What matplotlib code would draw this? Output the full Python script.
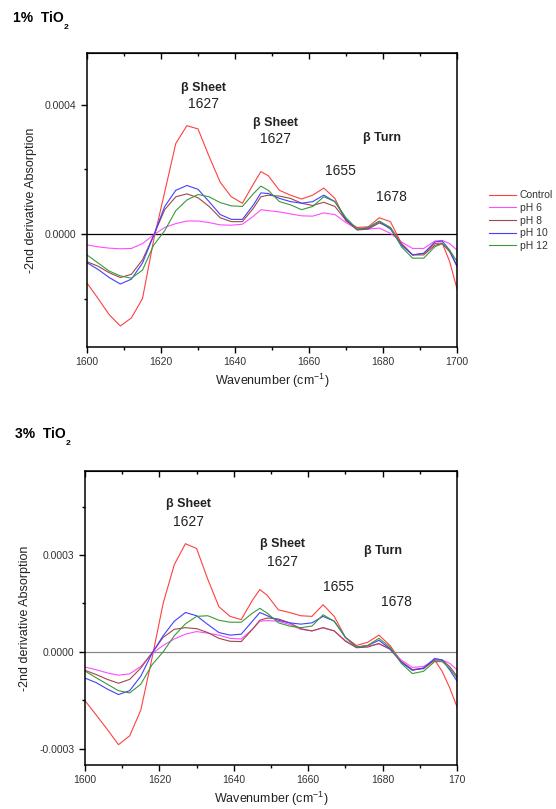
import numpy as np
import matplotlib
matplotlib.use('Agg')
import matplotlib.pyplot as plt
from matplotlib.ticker import MultipleLocator, FormatStrFormatter

plt.rcParams['font.family'] = ['Liberation Sans', 'DejaVu Sans']
plt.rcParams['mathtext.fontset'] = 'custom'
plt.rcParams['mathtext.rm'] = 'Liberation Sans'
plt.rcParams['mathtext.bf'] = 'Liberation Sans:bold'
plt.rcParams['axes.unicode_minus'] = False

# wavenumber grid (cm-1), values below are in units of 1e-4
wn = [1600, 1603, 1606, 1609, 1612, 1615, 1618, 1621, 1624, 1627, 1630, 1633,
      1636, 1639, 1642, 1645, 1647, 1649, 1652, 1655, 1658, 1661, 1664, 1667,
      1670, 1673, 1676, 1679, 1682, 1685, 1688, 1691, 1694, 1696, 1698, 1700]
scale = 1e-4

labels = ['Control', 'pH 6', 'pH 8', 'pH 10', 'pH 12']
colors = ['#ff4040', '#ff4cff', '#a04848', '#4040ff', '#3a9a3a']

# 1% TiO2
top_control = [-1.52, -2.0, -2.5, -2.85, -2.6, -2.0, -0.2, 1.3, 2.8, 3.35, 3.25, 2.4,
               1.6, 1.15, 0.95, 1.55, 1.93, 1.8, 1.35, 1.2, 1.08, 1.2, 1.42, 1.1,
               0.4, 0.2, 0.22, 0.5, 0.38, -0.3, -0.65, -0.6, -0.3, -0.28, -0.85, -1.7]
top_ph6 = [-0.34, -0.40, -0.44, -0.46, -0.45, -0.3, -0.03, 0.2, 0.32, 0.4, 0.4, 0.35,
           0.28, 0.27, 0.3, 0.55, 0.75, 0.72, 0.68, 0.62, 0.56, 0.55, 0.65, 0.6,
           0.35, 0.15, 0.15, 0.18, 0.02, -0.25, -0.45, -0.45, -0.22, -0.2, -0.3, -0.5]
top_ph8 = [-0.86, -1.0, -1.2, -1.35, -1.25, -0.8, -0.05, 0.75, 1.15, 1.24, 1.12, 0.85,
           0.5, 0.38, 0.38, 0.8, 1.15, 1.2, 1.17, 1.1, 0.95, 0.88, 0.98, 0.85,
           0.42, 0.12, 0.15, 0.34, 0.2, -0.3, -0.65, -0.65, -0.35, -0.3, -0.55, -1.0]
top_ph10 = [-0.89, -1.1, -1.35, -1.55, -1.4, -0.9, -0.05, 0.85, 1.35, 1.5, 1.38, 1.0,
            0.6, 0.45, 0.45, 0.9, 1.27, 1.25, 1.1, 1.0, 0.95, 1.0, 1.2, 1.0,
            0.45, 0.15, 0.18, 0.38, 0.15, -0.35, -0.65, -0.6, -0.25, -0.22, -0.5, -1.0]
top_ph12 = [-0.65, -0.9, -1.15, -1.3, -1.37, -1.12, -0.35, 0.1, 0.72, 1.05, 1.22, 1.15,
            0.97, 0.87, 0.85, 1.25, 1.48, 1.35, 1.0, 0.9, 0.75, 0.85, 1.15, 1.0,
            0.5, 0.15, 0.2, 0.4, 0.2, -0.4, -0.75, -0.75, -0.4, -0.3, -0.5, -0.85]

# 3% TiO2
bot_control = [-1.51, -1.95, -2.4, -2.87, -2.6, -1.8, -0.2, 1.5, 2.7, 3.35, 3.2, 2.25,
               1.4, 1.1, 1.0, 1.6, 1.93, 1.75, 1.3, 1.22, 1.12, 1.1, 1.46, 1.1,
               0.45, 0.2, 0.3, 0.52, 0.2, -0.3, -0.55, -0.5, -0.25, -0.6, -1.1, -1.7]
bot_ph6 = [-0.47, -0.55, -0.65, -0.72, -0.68, -0.45, -0.05, 0.2, 0.4, 0.55, 0.63, 0.58,
           0.52, 0.42, 0.4, 0.7, 0.95, 0.97, 0.95, 0.85, 0.7, 0.65, 0.75, 0.65,
           0.35, 0.15, 0.18, 0.25, 0.1, -0.25, -0.48, -0.45, -0.25, -0.25, -0.35, -0.55]
bot_ph8 = [-0.57, -0.7, -0.85, -0.97, -0.85, -0.5, -0.03, 0.45, 0.7, 0.75, 0.72, 0.6,
           0.42, 0.33, 0.32, 0.7, 0.98, 1.05, 1.02, 0.9, 0.72, 0.65, 0.75, 0.65,
           0.33, 0.13, 0.15, 0.26, 0.08, -0.3, -0.55, -0.52, -0.25, -0.25, -0.45, -0.75]
bot_ph10 = [-0.81, -0.95, -1.15, -1.32, -1.2, -0.75, -0.05, 0.5, 0.95, 1.22, 1.12, 0.85,
            0.6, 0.52, 0.55, 0.95, 1.22, 1.12, 0.98, 0.9, 0.86, 0.9, 1.1, 0.95,
            0.45, 0.15, 0.2, 0.36, 0.1, -0.32, -0.57, -0.5, -0.2, -0.25, -0.55, -0.9]
bot_ph12 = [-0.59, -0.8, -1.0, -1.2, -1.27, -1.0, -0.4, 0.0, 0.5, 0.87, 1.1, 1.12,
            0.98, 0.92, 0.92, 1.2, 1.35, 1.2, 0.9, 0.8, 0.75, 0.8, 1.15, 0.95,
            0.45, 0.15, 0.2, 0.42, 0.15, -0.35, -0.67, -0.6, -0.3, -0.3, -0.5, -0.8]

top_series = [top_control, top_ph6, top_ph8, top_ph10, top_ph12]
bot_series = [bot_control, bot_ph6, bot_ph8, bot_ph10, bot_ph12]

# annotations: (text, x, y in 1e-4, bold)
top_notes = [('β Sheet', 1631.4, 4.53, True), ('1627', 1631.4, 4.03, False),
             ('β Sheet', 1651.0, 3.44, True), ('1627', 1651.0, 2.95, False),
             ('β Turn', 1679.7, 2.98, True), ('1655', 1668.4, 1.95, False),
             ('1678', 1682.4, 1.15, False)]
bot_notes = [('β Sheet', 1627.7, 4.59, True), ('1627', 1627.7, 4.03, False),
             ('β Sheet', 1653.0, 3.34, True), ('1627', 1653.0, 2.78, False),
             ('β Turn', 1680.0, 3.13, True), ('1655', 1668.0, 2.0, False),
             ('1678', 1683.6, 1.53, False)]

fig = plt.figure(figsize=(5.56, 8.09), dpi=100)
ax1 = fig.add_axes([87/556, 1-347/809, 370/556, 294/809])
ax2 = fig.add_axes([85/556, 1-765/809, 372/556, 294/809])

wn_arr = np.array(wn)
tick_col = '#333333'
legend_lines = []

for ax, series, notes, major, zcol in [(ax1, top_series, top_notes, 0.0004, 'black'),
                                       (ax2, bot_series, bot_notes, 0.0003, '#888888')]:
    ax.axhline(0, color=zcol, lw=0.9, zorder=1)
    lines = []
    for vals, c, lab in zip(series, colors, labels):
        ln, = ax.plot(wn_arr, np.array(vals) * scale, color=c, lw=0.8, label=lab, zorder=2)
        lines.append(ln)
    if not legend_lines:
        legend_lines = lines
    ax.set_xlim(1600, 1700)
    ax.set_ylim(-0.00035, 0.00056)
    ax.xaxis.set_major_locator(MultipleLocator(20))
    ax.xaxis.set_minor_locator(MultipleLocator(10))
    ax.yaxis.set_major_locator(MultipleLocator(major))
    ax.yaxis.set_minor_locator(MultipleLocator(major / 2))
    ax.yaxis.set_major_formatter(FormatStrFormatter('%.4f'))
    ax.tick_params(which='both', direction='out', top=False, right=False,
                   labelsize=7.5, labelcolor=tick_col, width=1.0)
    ax.tick_params(which='major', length=4)
    ax.tick_params(which='minor', length=2.5)
    # inward ticks on top
    sec = ax.secondary_xaxis('top')
    sec.xaxis.set_major_locator(MultipleLocator(20))
    sec.xaxis.set_minor_locator(MultipleLocator(10))
    sec.tick_params(which='both', direction='in', labeltop=False, width=1.0)
    sec.tick_params(which='major', length=4)
    sec.tick_params(which='minor', length=2.5)
    for s in ax.spines.values():
        s.set_linewidth(1.1)
    ax.set_xlabel('Wavenumber (cm$^{-1}$)', fontsize=9, labelpad=3, color='#222222')
    ax.set_ylabel('-2nd derivative Absorption', fontsize=9, labelpad=6, color='#222222')
    for txt, x, y, bold in notes:
        ax.text(x, y * scale, txt, ha='center', va='center',
                fontsize=9 if bold else 10, fontweight='bold' if bold else 'normal',
                color='#222222')

ax2.set_xticks([1600, 1620, 1640, 1660, 1680, 1700])
ax2.set_xticklabels(['1600', '1620', '1640', '1660', '1680', '170'])

# panel titles with a small subscript 2
for tx, ty, txt in [(13, 18, '1%  TiO'), (15, 434, '3%  TiO')]:
    t = fig.text(tx/556, 1-ty/809, txt, fontsize=10, fontweight='bold',
                 va='center', ha='left')
    fig.add_artist(matplotlib.text.Annotation(
        '2', xy=(1.0, 0.05), xycoords=t, fontsize=6, fontweight='bold',
        ha='left', va='top', annotation_clip=False))

fig.legend(handles=legend_lines, labels=labels, loc='upper left',
           bbox_to_anchor=(480/556, 1-181/809), frameon=False, fontsize=7.5,
           handlelength=2.6, handletextpad=0.3, labelspacing=0.25, labelcolor='#333333')

fig.savefig('out.png', dpi=100)
